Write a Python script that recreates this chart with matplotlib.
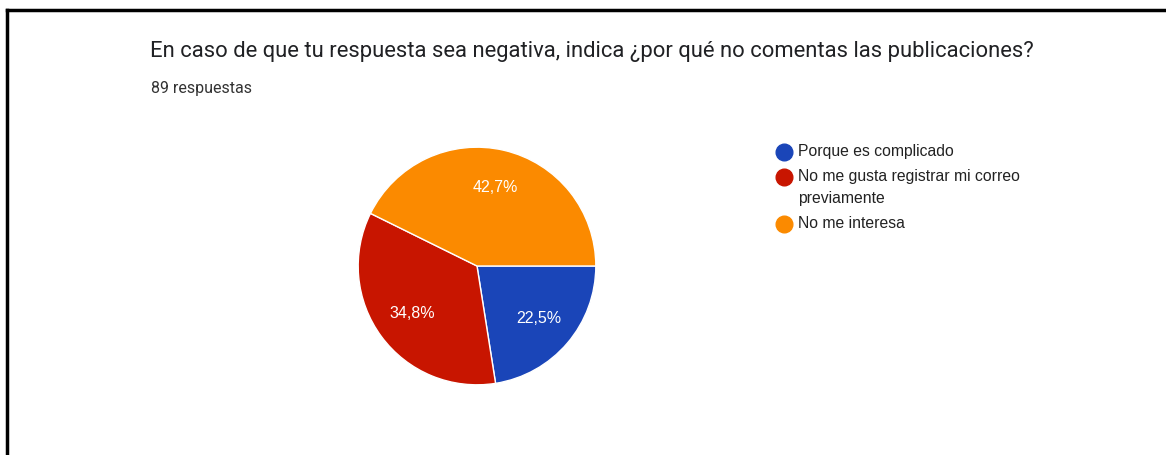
import matplotlib.pyplot as plt
from matplotlib.lines import Line2D

# Datos de la encuesta
titulo = "En caso de que tu respuesta sea negativa, indica ¿por qué no comentas las publicaciones?"
subtitulo = "89 respuestas"
categorias = ["Porque es complicado",
              "No me gusta registrar mi correo\npreviamente",
              "No me interesa"]
porcentajes = [22.5, 34.8, 42.7]
colores = ["#1a45b8", "#c81500", "#fb8a00"]

W, H = 1166, 455
fig = plt.figure(figsize=(W / 100, H / 100), dpi=100)
fig.patch.set_facecolor("white")

# Marco negro (arriba e izquierda)
fig.add_artist(Line2D([7 / W, 1], [1 - 10 / H, 1 - 10 / H], color="black", lw=2.5))
fig.add_artist(Line2D([7 / W, 7 / W], [0, 1 - 10 / H], color="black", lw=2.5))

# Título y número de respuestas
fig.text(150 / W, 1 - 52 / H, titulo, fontsize=15.8, family="Roboto",
         color="#202124", va="center", ha="left")
fig.text(151 / W, 1 - 88 / H, subtitulo, fontsize=11.5, family="Roboto",
         color="#333333", va="center", ha="left")

# Gráfico circular
cx, cy, r = 477, 266, 120
ax = fig.add_axes([(cx - r) / W, (H - cy - r) / H, 2 * r / W, 2 * r / H])
wedges, _, autotexts = ax.pie(
    porcentajes, colors=colores, startangle=0, counterclock=False,
    autopct=lambda p: f"{p:.1f}%".replace(".", ","), pctdistance=0.68,
    wedgeprops=dict(edgecolor="white", linewidth=1),
    textprops=dict(color="white", fontsize=11.5, family="Liberation Sans"))
ax.set_xlim(-1.01, 1.01)
ax.set_ylim(-1.01, 1.01)
ax.set_aspect("equal")
ax.axis("off")

# Leyenda a la derecha
y = 152
for nombre, color in zip(categorias, colores):
    fig.add_artist(Line2D([784 / W], [1 - y / H], marker="o", markersize=12,
                          color=color, linestyle="none"))
    lineas = nombre.split("\n")
    for k, linea in enumerate(lineas):
        fig.text(798 / W, 1 - (y + 22 * k) / H, linea, fontsize=11.3,
                 family="Liberation Sans", color="#222222", va="center", ha="left")
    y += 22 * (len(lineas) - 1) + 25

fig.savefig("out.png", dpi=100, facecolor="white")
